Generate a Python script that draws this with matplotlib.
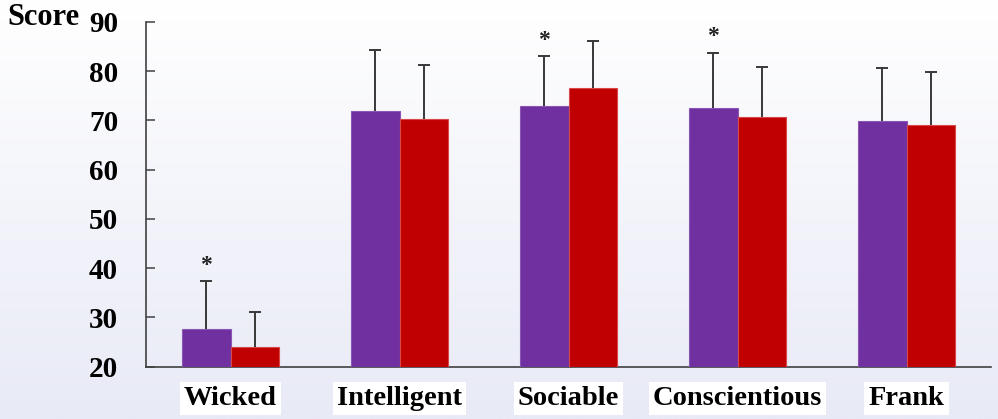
import numpy as np
import matplotlib
matplotlib.use("Agg")
import matplotlib.pyplot as plt
from matplotlib.colors import LinearSegmentedColormap

# Trait ratings: mean scores and standard deviations for the two groups
traits = ["Wicked", "Intelligent", "Sociable", "Conscientious", "Frank"]
group1_mean = [27.6, 71.9, 72.9, 72.6, 69.8]
group1_sd = [9.7, 12.4, 10.1, 11.1, 10.8]
group2_mean = [24.1, 70.3, 76.6, 70.6, 69.0]
group2_sd = [7.0, 10.9, 9.5, 10.3, 10.8]
significant = [True, False, True, True, False]
yticks = [20, 30, 40, 50, 60, 70, 80, 90]

PURPLE = "#7030A0"
RED = "#C00000"
AXIS = "#404040"
FONT = "Liberation Serif"

plt.rcParams["font.family"] = [FONT, "DejaVu Serif"]
plt.rcParams["font.weight"] = "bold"

fig = plt.figure(figsize=(9.98, 4.19), dpi=100)

# soft vertical gradient behind everything
bg = fig.add_axes([0, 0, 1, 1], zorder=-10)
cmap = LinearSegmentedColormap.from_list("bg", ["#E8EAF6", "#FFFFFF"])
bg.imshow(np.linspace(0, 1, 256).reshape(-1, 1), aspect="auto", cmap=cmap,
          origin="lower", extent=[0, 1, 0, 1])
bg.set_axis_off()

ax = fig.add_axes([0.1463, 0.1248, 0.8467, 0.8232])
ax.set_facecolor("none")

x = np.arange(len(traits))
w = 0.287
m1 = np.array(group1_mean)
m2 = np.array(group2_mean)
s1 = np.array(group1_sd)
s2 = np.array(group2_sd)

ax.bar(x - w / 2, m1 - 20, w, bottom=20, color=PURPLE, edgecolor="#8A55B5",
       linewidth=0.8, zorder=3)
ax.bar(x + w / 2, m2 - 20, w, bottom=20, color=RED, edgecolor="#D84848",
       linewidth=0.8, zorder=3)

# upward-only error bars with a cap at the top
for xs, m, s in ((x - w / 2, m1, s1), (x + w / 2, m2, s2)):
    ax.vlines(xs, m, m + s, colors="#383838", linewidth=1.4, zorder=4)
    ax.plot(xs, m + s, linestyle="none", marker="_", markersize=9,
            markeredgewidth=1.4, color="#383838", zorder=4)

# significance markers above the first group's bars
for xi, m, s, sig in zip(x - w / 2, m1, s1, significant):
    if sig:
        ax.annotate("*", (xi, m + s), xytext=(0, 4), textcoords="offset points",
                    ha="center", va="bottom", fontsize=17, color="#202020",
                    fontweight="bold")

ax.set_xlim(-0.5, len(traits) - 0.5)
ax.set_ylim(20, 90)
ax.set_yticks(yticks)
ax.set_yticklabels([str(t) for t in yticks])
ax.set_xticks(x)
ax.set_xticklabels(traits)

for lab in ax.get_xticklabels():
    lab.set_bbox(dict(facecolor="white", edgecolor="none", pad=1.5))
    lab.set_fontsize(20.5)
    lab.set_fontweight("bold")
for lab in ax.get_yticklabels():
    lab.set_fontsize(21)
    lab.set_fontweight("bold")

ax.tick_params(axis="y", direction="in", length=6.5, width=1.1, color=AXIS,
               pad=20, labelcolor="black")
ax.tick_params(axis="x", length=0, pad=14, labelcolor="black")

for side in ("top", "right"):
    ax.spines[side].set_visible(False)
for side in ("left", "bottom"):
    ax.spines[side].set_color(AXIS)
    ax.spines[side].set_linewidth(1.2)

fig.text(0.007, 0.992, "Score", ha="left", va="top", fontsize=22,
         fontweight="bold", color="black")

fig.savefig("out.png", dpi=100)
